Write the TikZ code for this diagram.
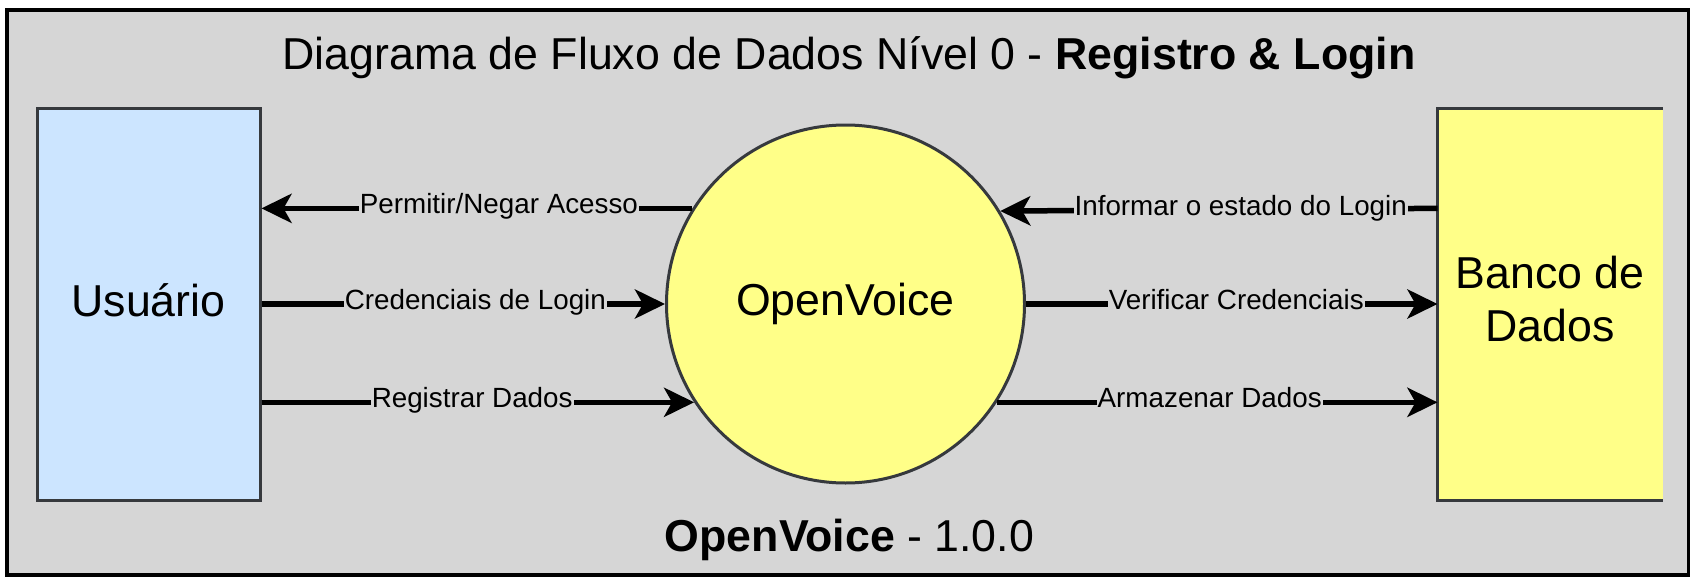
\documentclass[tikz,border=0pt]{standalone}
\usepackage{fontspec}
\setmainfont{Liberation Sans}
\usetikzlibrary{arrows.meta}
\definecolor{framegray}{RGB}{214,214,214}
\definecolor{usrblue}{RGB}{204,229,255}
\definecolor{yel}{RGB}{255,255,136}
\definecolor{edgec}{RGB}{54,57,61}
\begin{document}
\begin{tikzpicture}[x=1pt,y=-1pt,
  big/.style={font=\fontsize{44.7pt}{53pt}\selectfont},
  lbl/.style={font=\fontsize{27.8pt}{33pt}\selectfont, fill=framegray, inner xsep=1pt, inner ysep=0pt, text height=20pt, text depth=9pt},
  flow/.style={line width=5.5pt, -{Stealth[length=30pt,width=29pt,inset=8pt]}},
  entity/.style={draw=edgec, line width=3pt, inner sep=0pt, big}]
\useasboundingbox (0,0) rectangle (1700,586);
\node[draw=black, line width=3.5pt, fill=framegray, minimum width=1681.5pt, minimum height=565pt, inner sep=0pt] (frame) at (847.75,292.5) {};
\node[big, anchor=base] (title) at (849,70) {Diagrama de Fluxo de Dados Nível 0 - \textbf{Registro \& Login}};
\node[big, anchor=base] (ver) at (849.5,551) {\textbf{OpenVoice} - 1.0.0};
\node[entity, fill=usrblue, minimum width=223pt, minimum height=392pt, text height=33pt, text depth=9pt] (usr) at (148.5,304) {Usuário};
\node[entity, circle, fill=yel, minimum size=358pt] (ov) at (845.5,304) {OpenVoice};
\node[fill=yel, minimum width=225pt, minimum height=392pt, inner sep=0pt, outer sep=0pt] (db) at (1550,304) {};
\node[big, align=center] (dbtxt) at ([yshift=5pt]db.center) {Banco de\\Dados};
\draw[edgec, line width=3pt] (db.north east) -- (db.north west) -- (db.south west) -- (db.south east);
\draw[flow] (ov.148) -- (ov.148 -| usr.east) node[lbl,pos=0.449] {Permitir/Negar Acesso};
\draw[flow] (usr.east) -- (ov.west) node[lbl,pos=0.530] {Credenciais de Login};
\draw[flow] (ov.213 -| usr.east) -- (ov.213) node[lbl,pos=0.487] {Registrar Dados};
\draw[flow] (db.west |- ov.148) -- (ov.31) node[lbl,pos=0.450] {Informar o estado do Login};
\draw[flow] (ov.east) -- (db.west) node[lbl,pos=0.511] {Verificar Credenciais};
\draw[flow] (ov.327) -- (ov.327 -| db.west) node[lbl,pos=0.483] {Armazenar Dados};
\end{tikzpicture}
\end{document}
